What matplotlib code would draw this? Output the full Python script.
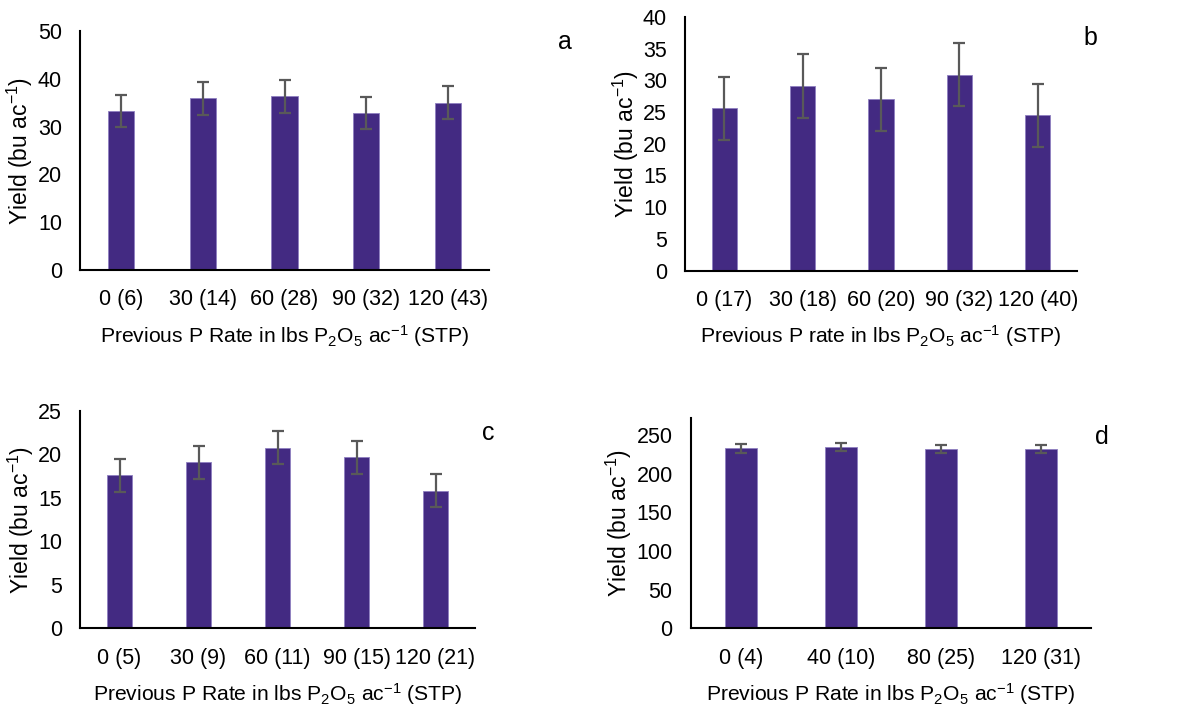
import matplotlib
matplotlib.use("Agg")
import matplotlib.pyplot as plt
import numpy as np

plt.rcParams['font.family'] = ['Liberation Sans', 'DejaVu Sans']
plt.rcParams['mathtext.default'] = 'regular'

# Panel a
cats_a = ["0 (6)", "30 (14)", "60 (28)", "90 (32)", "120 (43)"]
yield_a = [33.3, 35.9, 36.3, 32.8, 35.0]
err_a = [3.3, 3.4, 3.4, 3.4, 3.4]

# Panel b
cats_b = ["0 (17)", "30 (18)", "60 (20)", "90 (32)", "120 (40)"]
yield_b = [25.6, 29.1, 27.0, 30.9, 24.5]
err_b = [5.0, 5.1, 5.0, 5.0, 5.0]

# Panel c
cats_c = ["0 (5)", "30 (9)", "60 (11)", "90 (15)", "120 (21)"]
yield_c = [17.6, 19.1, 20.8, 19.7, 15.8]
err_c = [1.9, 1.9, 1.9, 1.9, 1.9]

# Panel d
cats_d = ["0 (4)", "40 (10)", "80 (25)", "120 (31)"]
yield_d = [232.8, 234.5, 231.9, 231.9]
err_d = [5.6, 5.6, 5.6, 5.6]

BAR = "#432A82"
EDGE = "#8F7FC0"
ERR = "#595959"

fig = plt.figure(figsize=(11.88, 7.07), dpi=100)

W, H = 1188, 707
def add_ax(left, right, top, bottom):
    return fig.add_axes([left / W, (H - bottom) / H, (right - left) / W, (bottom - top) / H])

panels = [
    (add_ax(80, 489, 31, 270), cats_a, yield_a, err_a, (0, 50), np.arange(0, 51, 10),
     'Previous P Rate in lbs P$_2$O$_5$ ac$^{-1}$ (STP)', 'a', (565, 42), 20),
    (add_ax(685, 1077, 17, 270.5), cats_b, yield_b, err_b, (0, 40), np.arange(0, 41, 5),
     'Previous P rate in lbs P$_2$O$_5$ ac$^{-1}$ (STP)', 'b', (1090, 38), 626),
    (add_ax(80, 475, 411, 628.3), cats_c, yield_c, err_c, (0, 25), np.arange(0, 26, 5),
     'Previous P Rate in lbs P$_2$O$_5$ ac$^{-1}$ (STP)', 'c', (488, 433), 21),
    (add_ax(690.7, 1091, 418.3, 628.3), cats_d, yield_d, err_d, (0, 271.5), np.arange(0, 251, 50),
     'Previous P Rate in lbs P$_2$O$_5$ ac$^{-1}$ (STP)', 'd', (1102, 437), 619),
]

for ax, cats, vals, errs, ylim, yticks, xlabel, letter, lpos, ylab_x in panels:
    x = np.arange(len(cats))
    ax.bar(x, vals, width=0.32, color=BAR, edgecolor=EDGE, linewidth=0.6, zorder=2)
    ax.errorbar(x, vals, yerr=errs, fmt='none', ecolor=ERR, elinewidth=1.6,
                capsize=4, capthick=1.6, zorder=3)
    ax.set_xlim(-0.5, len(cats) - 0.5)
    ax.set_ylim(*ylim)
    ax.set_yticks(yticks)
    ax.set_xticks(x)
    ax.set_xticklabels(cats)
    for s in ['top', 'right']:
        ax.spines[s].set_visible(False)
    for s in ['left', 'bottom']:
        ax.spines[s].set_linewidth(1.5)
        ax.spines[s].set_color('black')
    ax.tick_params(axis='both', length=0, labelsize=15.5, colors='black')
    ax.tick_params(axis='y', pad=13)
    ax.tick_params(axis='x', pad=14)
    ax.set_ylabel('Yield (bu ac$^{-1}$)', fontsize=16.5)
    bbox = ax.get_position()
    ax_left_px = bbox.x0 * W
    ax_w_px = bbox.width * W
    ax.yaxis.set_label_coords((ylab_x - ax_left_px) / ax_w_px, 0.5)
    ax.yaxis.label.set_verticalalignment('center')
    ax.set_xlabel(xlabel, fontsize=15.2, labelpad=9)
    fig.text(lpos[0] / W, (H - lpos[1]) / H, letter, fontsize=18, ha='center', va='center')

fig.savefig("out.png", dpi=100)
